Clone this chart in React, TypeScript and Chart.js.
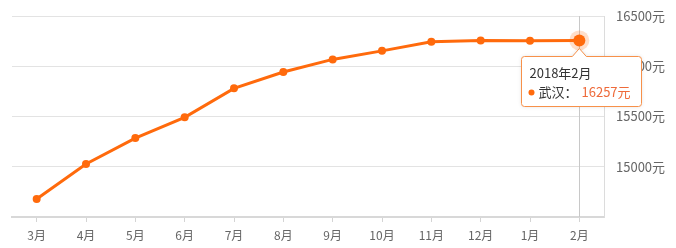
import React, { useEffect, useRef } from "react";
import { Chart, registerables } from "chart.js";

Chart.register(...registerables);

const CATEGORIES = ["3月", "4月", "5月", "6月", "7月", "8月", "9月", "10月", "11月", "12月", "1月", "2月"];
const PRICES = [14680, 15027, 15285, 15492, 15780, 15943, 16068, 16153, 16243, 16257, 16253, 16257];
const Y_TICKS = [15000, 15500, 16000, 16500];
const Y_MIN = 14500;
const Y_MAX = 16500;
const TOOLTIP_TITLE = "2018年2月";
const TOOLTIP_CITY = "武汉";
const UNIT = "元";

const FONT = '"Noto Sans CJK SC", "Noto Sans", sans-serif';
const ORANGE = "#ff6a0c";
const ACTIVE = PRICES.length - 1;

const overlayPlugin = {
  id: "overlay",
  beforeDatasetsDraw(chart: any) {
    const meta = chart.getDatasetMeta(0);
    const pt = meta.data[ACTIVE];
    const { ctx, chartArea } = chart;
    ctx.save();
    ctx.strokeStyle = "#c8c8c8";
    ctx.lineWidth = 1;
    ctx.beginPath();
    ctx.moveTo(Math.round(pt.x) + 0.5, chartArea.top);
    ctx.lineTo(Math.round(pt.x) + 0.5, chartArea.bottom);
    ctx.stroke();
    ctx.fillStyle = "rgba(255,106,12,0.22)";
    ctx.beginPath();
    ctx.arc(pt.x, pt.y, 10, 0, Math.PI * 2);
    ctx.fill();
    ctx.restore();
  },
  afterDatasetsDraw(chart: any) {
    const meta = chart.getDatasetMeta(0);
    const pt = meta.data[ACTIVE];
    const { ctx } = chart;
    const boxW = 120;
    const boxH = 50;
    const bx = Math.round(pt.x - 58) + 0.5;
    const by = Math.round(pt.y + 16) + 0.5;
    const cx = pt.x;
    ctx.save();
    ctx.shadowColor = "rgba(0,0,0,0.12)";
    ctx.shadowBlur = 4;
    ctx.fillStyle = "#fff";
    ctx.strokeStyle = "#f7914a";
    ctx.lineWidth = 1;
    const r = 3;
    ctx.beginPath();
    ctx.moveTo(bx + r, by);
    ctx.lineTo(cx - 7, by);
    ctx.lineTo(cx, by - 8);
    ctx.lineTo(cx + 7, by);
    ctx.lineTo(bx + boxW - r, by);
    ctx.arcTo(bx + boxW, by, bx + boxW, by + r, r);
    ctx.lineTo(bx + boxW, by + boxH - r);
    ctx.arcTo(bx + boxW, by + boxH, bx + boxW - r, by + boxH, r);
    ctx.lineTo(bx + r, by + boxH);
    ctx.arcTo(bx, by + boxH, bx, by + boxH - r, r);
    ctx.lineTo(bx, by + r);
    ctx.arcTo(bx, by, bx + r, by, r);
    ctx.closePath();
    ctx.fill();
    ctx.shadowColor = "transparent";
    ctx.stroke();

    ctx.font = "13px " + FONT;
    ctx.textBaseline = "middle";
    ctx.textAlign = "left";
    ctx.fillStyle = "#333";
    ctx.fillText(TOOLTIP_TITLE, bx + 8, by + 17);
    ctx.fillStyle = ORANGE;
    ctx.beginPath();
    ctx.arc(bx + 10, by + 36, 3, 0, Math.PI * 2);
    ctx.fill();
    ctx.fillStyle = "#333";
    ctx.fillText(TOOLTIP_CITY + "：", bx + 17, by + 36);
    ctx.fillStyle = "#ee6a3a";
    ctx.fillText(PRICES[ACTIVE] + UNIT, bx + 60, by + 36);
    ctx.restore();
  },
};

export default function App() {
  const ref = useRef<HTMLCanvasElement | null>(null);
  useEffect(() => {
    if (!ref.current) return;
    const chart = new Chart(ref.current, {
      type: "line",
      data: {
        labels: CATEGORIES,
        datasets: [
          {
            data: PRICES,
            borderColor: ORANGE,
            backgroundColor: ORANGE,
            borderWidth: 3,
            pointRadius: (c: any) => (c.dataIndex === ACTIVE ? 6 : 4),
            pointBackgroundColor: ORANGE,
            pointBorderWidth: 0,
            tension: 0,
            fill: false,
          },
        ],
      },
      options: {
        responsive: false,
        animation: false,
        events: [],
        layout: { padding: { left: 12, top: 16, right: 0, bottom: 0 } },
        plugins: { legend: { display: false }, tooltip: { enabled: false } },
        scales: {
          x: {
            offset: true,
            grid: { drawOnChartArea: false, drawTicks: true, tickLength: 5, tickColor: "#d4d4d4", offset: false },
            border: { display: true, color: "#d8d8d8", width: 2 },
            ticks: { color: "#666", padding: 6, font: { family: FONT, size: 12 }, maxRotation: 0, autoSkip: false },
            afterFit: (ax: any) => {
              ax.height = 31;
            },
          },
          y: {
            position: "right",
            min: Y_MIN,
            max: Y_MAX,
            afterBuildTicks: (ax: any) => {
              ax.ticks = Y_TICKS.map((v) => ({ value: v }));
            },
            grid: { color: "#e3e3e3", drawTicks: false, lineWidth: 1 },
            border: { display: true, color: "#dcdcdc" },
            ticks: {
              color: "#666",
              padding: 12,
              font: { family: FONT, size: 13 },
              callback: (v: any) => v + UNIT,
            },
            afterFit: (ax: any) => {
              ax.width = 72;
              ax.paddingTop = 0;
              ax.paddingBottom = 0;
            },
          },
        },
      },
      plugins: [overlayPlugin],
    });
    return () => chart.destroy();
  }, []);
  return (
    <div style={{ position: "fixed", left: 0, top: 0, width: 676, height: 248, background: "#fff" }}>
      <canvas ref={ref} width={676} height={248} style={{ width: 676, height: 248, display: "block" }} />
    </div>
  );
}
